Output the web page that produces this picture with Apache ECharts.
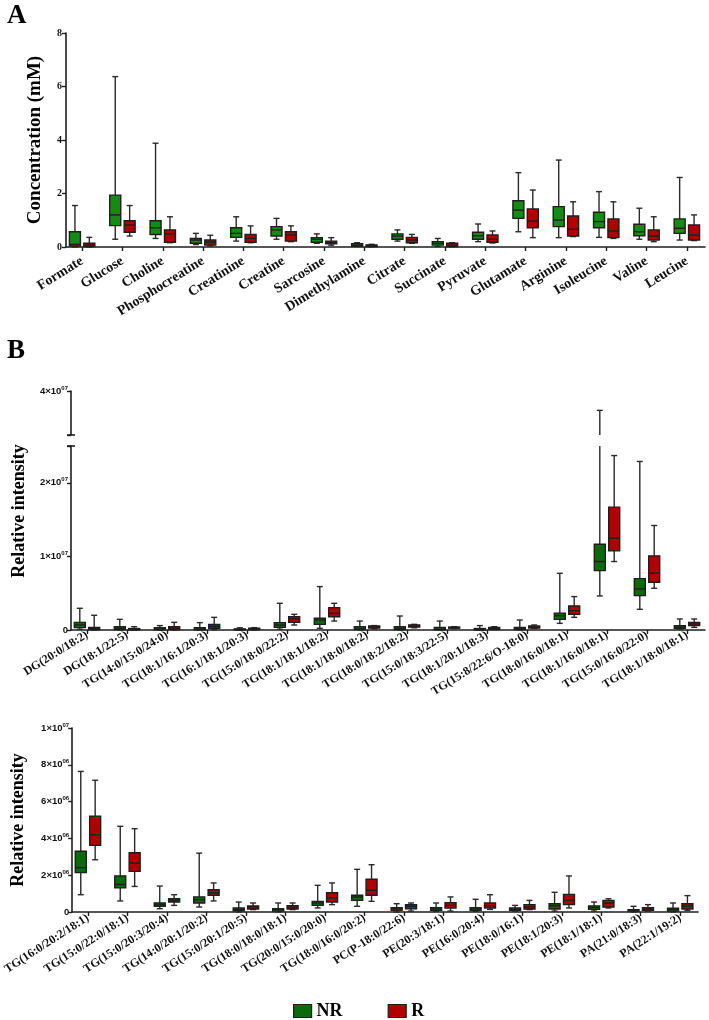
<!DOCTYPE html>
<html><head><meta charset="utf-8">
<script src="https://cdn.jsdelivr.net/npm/echarts@6/dist/echarts.min.js"></script>
<style>html,body{margin:0;padding:0;background:#fff}#c{width:709px;height:1020px}</style>
</head><body><div id="c"></div><script>
// ---------- DATA ----------
// each box: [min, Q1, median, Q3, max]
const catsA = ['Formate','Glucose','Choline','Phosphocreatine','Creatinine','Creatine','Sarcosine','Dimethylamine','Citrate','Succinate','Pyruvate','Glutamate','Arginine','Isoleucine','Valine','Leucine'];
const nrA = [
  [0.00,0.04,0.10,0.57,1.55],[0.29,0.80,1.20,1.94,6.37],[0.32,0.47,0.72,0.98,3.88],[0.09,0.14,0.26,0.32,0.51],
  [0.22,0.36,0.51,0.72,1.13],[0.29,0.41,0.64,0.76,1.07],[0.14,0.18,0.29,0.35,0.49],[0.02,0.03,0.07,0.12,0.16],
  [0.22,0.29,0.41,0.49,0.64],[0.02,0.07,0.14,0.20,0.32],[0.20,0.29,0.42,0.55,0.86],[0.57,1.07,1.38,1.73,2.78],
  [0.35,0.76,1.01,1.51,3.25],[0.36,0.72,0.95,1.30,2.07],[0.29,0.42,0.57,0.85,1.45],[0.26,0.51,0.70,1.05,2.60]
];
const rA = [
  [0.00,0.02,0.07,0.14,0.36],[0.41,0.55,0.82,0.98,1.55],[0.16,0.18,0.49,0.64,1.13],[0.04,0.07,0.18,0.26,0.44],
  [0.16,0.18,0.32,0.47,0.79],[0.20,0.22,0.45,0.57,0.79],[0.07,0.12,0.18,0.22,0.35],[0.01,0.02,0.05,0.08,0.10],
  [0.14,0.16,0.26,0.36,0.47],[0.01,0.02,0.07,0.14,0.16],[0.15,0.18,0.29,0.45,0.60],[0.35,0.72,0.97,1.42,2.13],
  [0.39,0.41,0.66,1.16,1.69],[0.32,0.35,0.60,1.05,1.69],[0.20,0.26,0.41,0.64,1.13],[0.24,0.26,0.45,0.82,1.20]
];
const ticksA = [0,2,4,6,8];

const catsB1 = ['DG(20:0/18:2)','DG(18:1/22:5)','TG(14:0/15:0/24:0)','TG(18:1/16:1/20:3)','TG(16:1/18:1/20:3)','TG(15:0/18:0/22:2)','TG(18:1/18:1/18:2)','TG(18:1/18:0/18:2)','TG(18:0/18:2/18:2)','TG(15:0/18:3/22:5)','TG(18:1/20:1/18:3)','TG(15:8/22:6/O-18:0)','TG(18:0/16:0/18:1)','TG(18:1/16:0/18:1)','TG(15:0/16:0/22:0)','TG(18:1/18:0/18:1)'];
const nrB1 = [
  [0.09e6,0.32e6,0.68e6,1.04e6,2.95e6],[0,0.05e6,0.20e6,0.45e6,1.45e6],[0,0.02e6,0.10e6,0.30e6,0.60e6],[0,0.03e6,0.12e6,0.30e6,1.00e6],
  [0,0.02e6,0.05e6,0.15e6,0.30e6],[0.10e6,0.36e6,0.68e6,1.00e6,3.63e6],[0.23e6,0.77e6,1.36e6,1.59e6,5.90e6],[0,0.05e6,0.15e6,0.45e6,1.22e6],
  [0,0.05e6,0.20e6,0.45e6,1.90e6],[0,0.03e6,0.12e6,0.35e6,1.22e6],[0,0.02e6,0.05e6,0.20e6,0.60e6],[0,0.05e6,0.20e6,0.36e6,1.36e6],
  [0.90e6,1.45e6,1.95e6,2.27e6,7.70e6],[4.63e6,8.07e6,9.30e6,11.66e6,37.8e6],[2.81e6,4.67e6,5.58e6,6.98e6,22.9e6],[0.10e6,0.23e6,0.41e6,0.59e6,1.50e6]
];
const rB1 = [
  [0,0.05e6,0.20e6,0.36e6,2.00e6],[0,0.02e6,0.10e6,0.20e6,0.45e6],[0,0.05e6,0.25e6,0.45e6,1.04e6],[0.02e6,0.23e6,0.50e6,0.77e6,1.72e6],
  [0,0.05e6,0.15e6,0.25e6,0.32e6],[0.68e6,1.04e6,1.50e6,1.81e6,2.13e6],[1.22e6,1.81e6,2.27e6,3.04e6,3.63e6],[0.15e6,0.25e6,0.40e6,0.55e6,0.60e6],
  [0.30e6,0.40e6,0.55e6,0.70e6,0.77e6],[0.20e6,0.25e6,0.32e6,0.40e6,0.45e6],[0.05e6,0.10e6,0.20e6,0.35e6,0.45e6],[0.20e6,0.25e6,0.40e6,0.54e6,0.68e6],
  [1.72e6,2.13e6,2.63e6,3.27e6,4.54e6],[9.30e6,10.75e6,12.47e6,16.7e6,23.7e6],[5.67e6,6.49e6,7.71e6,10.07e6,14.2e6],[0.36e6,0.59e6,0.82e6,1.04e6,1.50e6]
];
const ticksB1Upper = [4e7];
const ticksB1Lower = [0,1e7,2e7];

const catsB2 = ['TG(16:0/20:2/18:1)','TG(15:0/22:0/18:1)','TG(15:0/20:3/20:4)','TG(14:0/20:1/20:2)','TG(15:0/20:1/20:5)','TG(18:0/18:0/18:1)','TG(20:0/15:0/20:0)','TG(18:0/16:0/20:2)','PC(P-18:0/22:6)','PE(20:3/18:1)','PE(16:0/20:4)','PE(18:0/16:1)','PE(18:1/20:3)','PE(18:1/18:1)','PA(21:0/18:3)','PA(22:1/19:2)'];
const nrB2 = [
  [0.94e6,2.14e6,2.41e6,3.30e6,7.64e6],[0.60e6,1.32e6,1.50e6,1.96e6,4.66e6],[0.18e6,0.31e6,0.40e6,0.49e6,1.41e6],[0.27e6,0.49e6,0.67e6,0.82e6,3.20e6],
  [0,0.07e6,0.14e6,0.22e6,0.54e6],[0,0.05e6,0.13e6,0.18e6,0.49e6],[0.22e6,0.36e6,0.49e6,0.58e6,1.45e6],[0.31e6,0.63e6,0.82e6,0.91e6,2.32e6],
  [0,0.09e6,0.18e6,0.24e6,0.45e6],[0.04e6,0.09e6,0.16e6,0.24e6,0.49e6],[0.04e6,0.09e6,0.16e6,0.24e6,0.69e6],[0.05e6,0.09e6,0.14e6,0.22e6,0.36e6],
  [0.05e6,0.16e6,0.33e6,0.45e6,1.07e6],[0.05e6,0.14e6,0.24e6,0.33e6,0.54e6],[0,0.05e6,0.09e6,0.13e6,0.31e6],[0,0.05e6,0.13e6,0.20e6,0.49e6]
];
const rB2 = [
  [2.84e6,3.62e6,4.20e6,5.20e6,7.16e6],[1.39e6,2.21e6,2.66e6,3.22e6,4.53e6],[0.36e6,0.54e6,0.63e6,0.72e6,0.94e6],[0.60e6,0.91e6,1.05e6,1.21e6,1.58e6],
  [0.13e6,0.16e6,0.27e6,0.33e6,0.49e6],[0.13e6,0.16e6,0.27e6,0.34e6,0.49e6],[0.40e6,0.54e6,0.76e6,1.05e6,1.58e6],[0.58e6,0.91e6,1.18e6,1.78e6,2.57e6],
  [0.05e6,0.18e6,0.31e6,0.40e6,0.49e6],[0.05e6,0.22e6,0.36e6,0.51e6,0.82e6],[0.14e6,0.22e6,0.34e6,0.49e6,0.94e6],[0.13e6,0.16e6,0.27e6,0.40e6,0.63e6],
  [0.22e6,0.40e6,0.63e6,0.96e6,1.96e6],[0.22e6,0.27e6,0.49e6,0.63e6,0.72e6],[0.05e6,0.09e6,0.16e6,0.24e6,0.40e6],[0.09e6,0.16e6,0.31e6,0.45e6,0.89e6]
];
const ticksB2 = [0,2e6,4e6,6e6,8e6,1e7];

// ---------- STYLE ----------
const SERIF = "'Liberation Serif','Times New Roman',serif";
const SANS = "'Liberation Sans',Arial,sans-serif";
const GREEN_A = '#148c14', GREEN_B = '#0b6a0b', RED = '#b00000';
const INK = '#1e1e1e';
const BOX_W = 11, CAP_W = 6, OFF = 7.2;
function sci(v){
  if (v === 0) return '{a|0}';
  const e = Math.floor(Math.log10(v) + 1e-9);
  const m = Math.round(v / Math.pow(10, e));
  return '{a|' + m + '×10}{s|' + String(e).padStart(2,'0') + '}';
}
const sciRich = {
  a: {fontFamily: SANS, fontWeight: 'bold', fontSize: 9.5, color: '#111', lineHeight: 12},
  s: {fontFamily: SANS, fontWeight: 'bold', fontSize: 6, color: '#111', verticalAlign: 'top', lineHeight: 8}
};
const idx16 = catsA.map((_, i) => i);

function boxSeries(name, data, axis, offset, fill, yMin, yMax){
  return {
    type: 'custom', name, xAxisIndex: axis, yAxisIndex: axis,
    itemStyle: {color: fill, borderColor: INK, borderWidth: 1.2},
    encode: {x: 0, y: [1,2,3,4,5]},
    data: data.map((d, i) => [i].concat(d)),
    renderItem: function(params, api){
      const i = api.value(0);
      const mn = api.value(1), q1 = api.value(2), md = api.value(3), q3 = api.value(4), mx = api.value(5);
      if (mx < yMin || mn > yMax) return null;
      const cl = t => Math.max(yMin, Math.min(yMax, t));
      const Y = t => api.coord([i, cl(t)])[1];
      const cx = api.coord([i, yMin])[0] + offset;
      const ls = {stroke: '#2a2a2a', lineWidth: 1.4};
      const ch = [];
      ch.push({type:'line', shape:{x1:cx, y1:Y(mn), x2:cx, y2:Y(mx)}, style: ls});
      if (mx <= yMax) ch.push({type:'line', shape:{x1:cx-CAP_W/2, y1:Y(mx), x2:cx+CAP_W/2, y2:Y(mx)}, style: ls});
      if (mn >= yMin) ch.push({type:'line', shape:{x1:cx-CAP_W/2, y1:Y(mn), x2:cx+CAP_W/2, y2:Y(mn)}, style: ls});
      if (q3 > yMin && q1 < yMax) {
        const yt = Y(q3), yb = Y(q1);
        ch.push({type:'rect', shape:{x:cx-BOX_W/2, y:yt, width:BOX_W, height:Math.max(yb-yt, 0.5)},
          style:{fill: fill, stroke: INK, lineWidth: 1.4}});
      }
      if (md >= yMin && md <= yMax)
        ch.push({type:'line', shape:{x1:cx-BOX_W/2, y1:Y(md), x2:cx+BOX_W/2, y2:Y(md)}, style:{stroke: INK, lineWidth: 1.4}});
      return {type:'group', children: ch};
    }
  };
}

function xAxis(grid, cats, show, fs, rot, margin){
  return {
    type: 'value', gridIndex: grid, min: -0.4, max: 15.45, show: show,
    splitLine: {show: false},
    axisLine: {show: true, onZero: false, lineStyle: {color: INK, width: 1.6}},
    axisTick: {show: true, customValues: idx16, length: 4, lineStyle: {color: INK, width: 1.4}},
    axisLabel: {show: true, customValues: idx16, formatter: v => cats[Math.round(v)], rotate: rot, margin: margin,
      fontFamily: SERIF, fontWeight: 'bold', fontSize: fs, color: '#111'}
  };
}
function yAxis(grid, min, max, interval, shown, isSci, extra){
  const has = v => shown.some(s => Math.abs(s - v) <= 1e-6 * Math.max(1, Math.abs(v)));
  return Object.assign({
    type: 'value', gridIndex: grid, min, max, interval,
    splitLine: {show: false},
    axisLine: {show: true, onZero: false, lineStyle: {color: INK, width: 1.6}},
    axisTick: {show: true, length: 4, lineStyle: {color: INK, width: 1.4}},
    axisLabel: isSci
      ? {margin: 3, rich: sciRich, formatter: v => has(v) ? sci(v) : ''}
      : {margin: 4, fontFamily: SERIF, fontWeight: 'bold', fontSize: 10, color: '#111', formatter: v => has(v) ? String(v) : ''}
  }, extra || {});
}

const chart = echarts.init(document.getElementById('c'), null, {renderer: 'canvas'});
const option = {
  backgroundColor: '#fff',
  animation: false,
  title: [
    {text: 'A', left: 2, top: -2, textStyle: {fontFamily: SERIF, fontWeight: 'bold', fontSize: 27, color: '#000'}},
    {text: 'B', left: 2, top: 333, textStyle: {fontFamily: SERIF, fontWeight: 'bold', fontSize: 27, color: '#000'}}
  ],
  grid: [
    {left: 66, top: 33, width: 639, height: 214},
    {left: 71, top: 391, width: 634, height: 44},
    {left: 71, top: 446, width: 634, height: 184},
    {left: 71, top: 728, width: 627, height: 184}
  ],
  xAxis: [
    xAxis(0, catsA, true, 14, 32, 13),
    xAxis(1, catsB1, false, 12, 32, 4),
    xAxis(2, catsB1, true, 12, 32, 4),
    xAxis(3, catsB2, true, 12, 33, 5)
  ],
  yAxis: [
    yAxis(0, 0, 8, 2, ticksA, false, {name: 'Concentration (mM)', nameLocation: 'middle', nameGap: 21,
      nameTextStyle: {fontFamily: SERIF, fontWeight: 'bold', fontSize: 19, color: '#000'}}),
    yAxis(1, 3.5e7, 4e7, 5e6, ticksB1Upper, true),
    yAxis(2, 0, 2.5e7, 1e7, ticksB1Lower, true),
    yAxis(3, 0, 1e7, 2e6, ticksB2, true, {name: 'Relative intensity', nameLocation: 'middle', nameGap: 45,
      nameTextStyle: {fontFamily: SERIF, fontWeight: 'bold', fontSize: 18, color: '#000'}})
  ],
  legend: {
    left: 293, top: 1002, padding: 0, itemWidth: 18, itemHeight: 13, itemGap: 45, icon: 'rect',
    textStyle: {fontFamily: SERIF, fontWeight: 'bold', fontSize: 18, color: '#000'},
    data: [
      {name: 'NR', itemStyle: {color: GREEN_B, borderColor: INK, borderWidth: 1.2}},
      {name: 'R', itemStyle: {color: RED, borderColor: INK, borderWidth: 1.2}}
    ]
  },
  graphic: [
    {type: 'text', x: 19, y: 511, rotation: Math.PI / 2,
      style: {text: 'Relative intensity', align: 'center', verticalAlign: 'middle',
        font: 'bold 18px ' + SERIF, fill: '#000'}}
  ],
  series: [
    boxSeries('NR', nrA, 0, -OFF, GREEN_A, 0, 8),
    boxSeries('R', rA, 0, OFF, RED, 0, 8),
    boxSeries('NR', nrB1, 1, -OFF, GREEN_B, 3.5e7, 4e7),
    boxSeries('R', rB1, 1, OFF, RED, 3.5e7, 4e7),
    boxSeries('NR', nrB1, 2, -OFF, GREEN_B, 0, 2.5e7),
    boxSeries('R', rB1, 2, OFF, RED, 0, 2.5e7),
    boxSeries('NR', nrB2, 3, -OFF, GREEN_B, 0, 1e7),
    boxSeries('R', rB2, 3, OFF, RED, 0, 1e7)
  ]
};
chart.setOption(option);
// break caps on the B axis (both sides of the axis line)
const ax = chart.convertToPixel({xAxisIndex: 1}, -0.4);
const capY = [chart.convertToPixel({yAxisIndex: 1}, 3.5e7), chart.convertToPixel({yAxisIndex: 2}, 2.5e7)];
chart.setOption({graphic: option.graphic.concat(capY.map(y => ({
  type: 'line', shape: {x1: ax - 4, y1: y, x2: ax + 4, y2: y}, style: {stroke: INK, lineWidth: 1.6}
})))});
</script></body></html>
